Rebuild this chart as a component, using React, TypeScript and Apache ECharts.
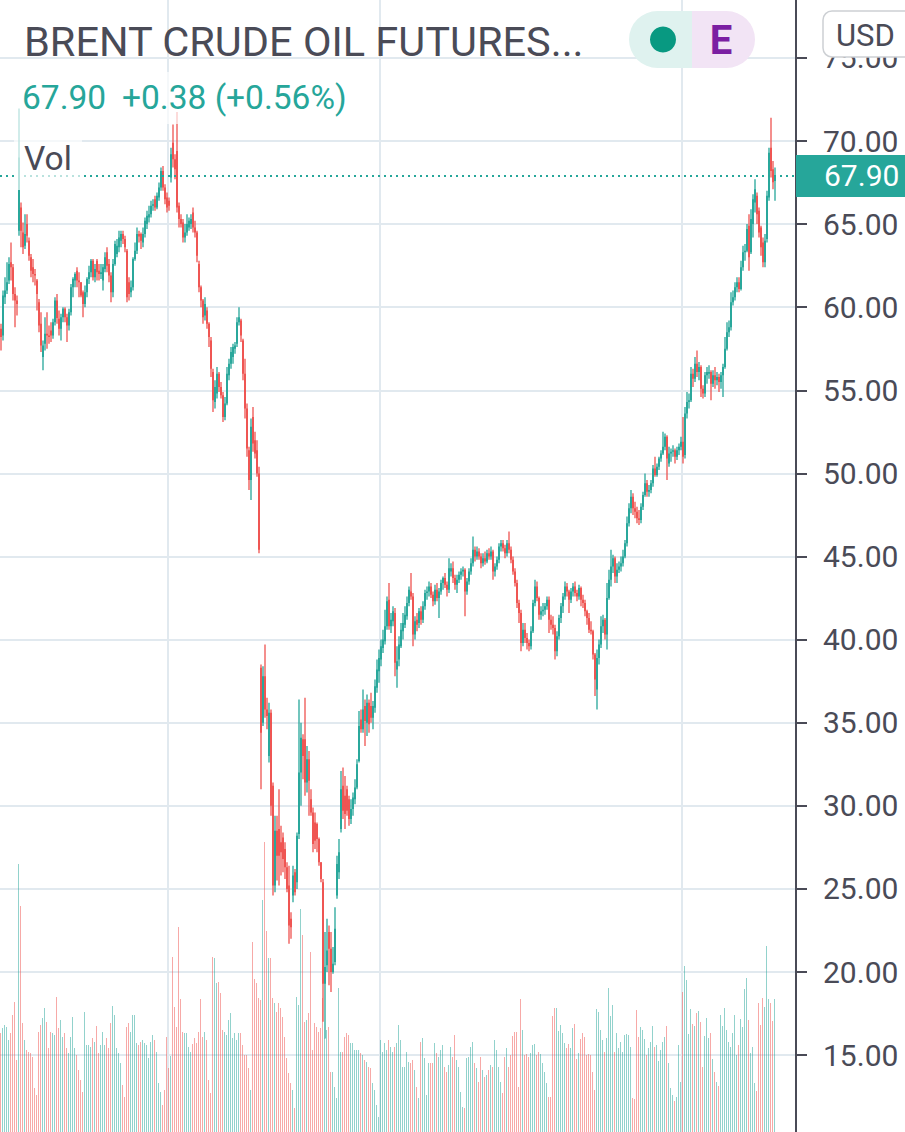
import React, { useEffect, useRef } from "react";
import * as echarts from "echarts";

const UP = "#26a69a";
const DOWN = "#ef5350";
const UP_VOL = "rgba(38,166,154,0.5)";
const DOWN_VOL = "rgba(239,83,80,0.5)";
const GRID = "#e1e9ef";
const AXIS = "#4a4b57";
const TEXT = "#4a4b57";

// Daily candles: [open, high, low, close]
const sep2019 = [
  [58.7, 59.0, 57.4, 58.2], [58.3, 61.0, 58.0, 60.7], [60.6, 61.8, 60.2, 61.0], [61.0, 62.7, 60.8, 61.5],
  [61.6, 63.0, 61.4, 62.6], [62.7, 63.9, 61.6, 62.4], [62.4, 62.6, 60.4, 60.8], [60.8, 61.2, 58.8, 60.4],
  [60.4, 60.7, 59.5, 60.2], [64.6, 71.95, 64.3, 69.0], [66.0, 66.3, 63.6, 64.6], [64.5, 65.1, 63.2, 63.6],
  [63.7, 65.6, 63.5, 64.4], [65.0, 65.6, 63.9, 64.3], [64.0, 64.2, 62.8, 63.1], [63.0, 63.2, 61.8, 62.2],
  [62.4, 62.9, 61.5, 62.0], [62.0, 62.3, 61.3, 61.9], [61.6, 61.7, 59.8, 60.8], [60.3, 60.5, 58.5, 58.9],
];
const oct2019 = [
  [59.0, 59.7, 57.3, 57.7], [57.0, 58.0, 56.2, 57.7], [57.8, 59.4, 57.4, 58.4], [58.4, 59.7, 57.5, 58.3],
  [58.3, 58.9, 57.8, 58.2], [58.6, 59.1, 57.9, 58.3], [58.3, 59.3, 58.1, 59.1], [59.1, 60.6, 58.9, 60.4],
  [60.4, 60.8, 59.0, 59.35], [59.3, 59.8, 58.3, 58.7], [58.7, 59.6, 58.0, 59.4], [59.4, 60.0, 59.1, 59.9],
  [59.9, 60.0, 59.1, 59.4], [59.4, 59.6, 57.9, 58.9], [58.9, 59.9, 58.6, 59.7], [59.7, 61.4, 59.5, 61.2],
  [61.2, 61.8, 60.6, 61.7], [61.6, 62.1, 61.2, 62.0], [62.2, 62.4, 61.2, 61.6], [61.6, 62.1, 60.6, 61.5],
  [61.5, 61.5, 60.6, 60.7], [60.9, 61.0, 59.4, 60.2], [60.2, 61.3, 60.0, 60.9],
];
const nov2019 = [
  [60.9, 61.8, 60.6, 61.7], [61.7, 62.5, 61.4, 62.1], [62.1, 62.9, 61.8, 62.8], [62.8, 62.9, 61.6, 61.8],
  [61.8, 62.6, 61.5, 62.3], [62.8, 62.9, 61.6, 62.1], [62.2, 62.6, 61.6, 62.0], [62.0, 62.6, 61.7, 62.1],
  [61.6, 62.6, 61.0, 62.4], [62.3, 63.3, 62.1, 63.0], [63.3, 63.6, 62.1, 62.5], [62.6, 62.9, 61.5, 61.9],
  [61.9, 62.1, 60.3, 60.9], [60.9, 62.9, 60.6, 62.6], [62.6, 64.0, 62.5, 63.8], [63.2, 64.1, 63.0, 63.7],
  [63.6, 64.6, 63.3, 64.2], [64.0, 64.6, 63.6, 64.4], [64.4, 64.6, 63.8, 64.1], [64.1, 64.3, 63.3, 63.6],
  [63.4, 63.5, 60.3, 60.6],
];
const dec2019 = [
  [61.5, 61.8, 60.4, 60.8], [60.9, 61.6, 60.6, 61.2], [61.2, 63.0, 61.0, 62.9], [62.9, 63.9, 62.8, 63.4],
  [63.4, 64.8, 63.2, 64.4], [64.4, 64.6, 63.9, 64.25], [64.4, 64.5, 63.5, 64.0], [63.9, 64.8, 63.6, 64.4],
  [64.4, 65.4, 64.2, 65.2], [65.0, 65.8, 64.7, 65.5], [65.4, 66.1, 65.1, 65.6], [65.6, 66.4, 65.4, 66.1],
  [66.1, 66.5, 65.8, 66.2], [66.5, 66.7, 65.8, 66.0], [66.0, 66.9, 65.9, 66.7], [66.6, 67.5, 66.4, 67.2],
  [67.2, 68.4, 67.0, 68.2], [68.2, 68.5, 67.0, 67.2], [67.2, 67.4, 66.2, 66.5], [66.6, 66.9, 65.7, 66.0],
];
const jan2020 = [
  [66.4, 66.6, 65.8, 66.1], [67.8, 69.6, 67.5, 69.2], [69.9, 71.0, 68.4, 68.9], [68.9, 69.2, 67.7, 68.3],
  [69.4, 71.75, 65.7, 66.0], [66.1, 66.3, 64.8, 65.3], [65.3, 65.6, 64.8, 65.0], [65.1, 65.3, 63.9, 64.2],
  [64.2, 65.0, 63.9, 64.5], [64.5, 65.6, 64.3, 65.0], [64.8, 65.4, 64.6, 65.2], [65.0, 65.6, 64.7, 65.3],
  [65.7, 66.0, 64.5, 64.8], [64.8, 65.2, 64.2, 64.5], [64.5, 64.6, 62.7, 63.1], [62.6, 62.8, 60.9, 61.2],
  [61.2, 61.3, 60.0, 60.4], [60.4, 60.5, 59.0, 59.4], [59.5, 60.6, 59.2, 60.2], [59.8, 60.0, 58.7, 59.0],
  [59.0, 59.1, 57.6, 58.2], [58.0, 58.2, 55.8, 56.3],
];
const feb2020 = [
  [56.1, 56.3, 53.7, 54.4], [54.3, 55.6, 53.9, 55.2], [54.8, 56.4, 54.5, 56.0], [56.0, 56.1, 54.9, 55.2],
  [55.2, 55.5, 54.5, 54.7], [54.7, 54.9, 53.1, 53.4], [53.4, 54.6, 53.2, 54.2], [54.2, 56.4, 54.1, 56.0],
  [55.9, 56.9, 55.6, 56.6], [56.6, 57.6, 56.3, 57.3], [57.0, 57.8, 56.6, 57.6], [57.5, 57.9, 57.2, 57.7],
  [57.8, 59.4, 57.6, 59.1], [59.1, 60.0, 58.9, 59.4], [59.2, 59.3, 57.9, 58.3], [58.0, 58.1, 55.6, 56.0],
  [56.0, 56.9, 53.3, 53.9], [53.9, 54.2, 51.0, 51.5], [51.4, 51.6, 49.0, 49.6], [49.6, 53.3, 48.4, 52.8],
];
const mar2020 = [
  [53.4, 54.0, 51.3, 51.8], [52.0, 52.5, 50.9, 51.2], [51.4, 52.0, 49.8, 50.0], [50.0, 50.4, 45.2, 45.4],
  [38.3, 38.5, 31.0, 34.4], [35.0, 38.4, 34.8, 37.8], [37.8, 39.7, 35.3, 35.8], [35.8, 36.5, 34.6, 35.4],
  [33.0, 36.2, 32.6, 35.6], [35.6, 35.8, 29.4, 30.0], [31.2, 31.4, 24.6, 25.2], [25.2, 29.4, 24.8, 28.5],
  [28.5, 29.4, 25.5, 27.0], [28.6, 31.0, 25.2, 27.0], [27.8, 28.8, 25.8, 27.2], [28.1, 28.4, 26.0, 26.8],
  [27.4, 27.8, 25.6, 26.3], [26.3, 26.6, 24.8, 25.0], [25.2, 26.4, 21.7, 22.8], [23.2, 23.6, 22.0, 22.7],
  [24.6, 26.4, 24.2, 25.8], [26.0, 26.2, 24.6, 24.8],
];
const apr2020 = [
  [25.4, 28.4, 25.0, 28.2], [28.3, 36.4, 28.0, 32.0], [32.0, 35.0, 30.0, 34.1], [34.0, 34.3, 31.6, 33.0],
  [34.0, 36.5, 30.6, 31.4], [31.4, 33.6, 30.8, 32.8], [32.8, 33.3, 29.4, 31.5], [30.4, 31.0, 29.4, 29.6],
  [29.6, 29.9, 27.2, 27.7], [29.0, 29.6, 27.4, 27.9], [28.9, 29.0, 27.2, 28.0], [28.0, 28.1, 26.4, 26.6],
  [26.6, 26.6, 25.4, 25.6], [25.4, 25.6, 17.0, 19.3], [19.3, 22.4, 16.0, 20.3], [20.4, 23.2, 20.0, 21.3],
  [22.4, 22.8, 19.2, 21.4], [21.4, 22.4, 18.8, 20.0], [20.0, 21.5, 19.9, 20.5], [20.6, 23.9, 20.4, 22.6],
];
const may2020 = [
  [24.6, 27.0, 24.4, 26.5], [26.0, 28.0, 25.6, 27.2], [28.6, 32.1, 28.4, 31.0], [31.2, 32.3, 29.2, 29.7],
  [30.6, 31.8, 28.6, 29.5], [31.0, 31.2, 29.4, 29.7], [30.4, 30.6, 28.8, 29.2], [29.2, 30.4, 28.9, 29.8],
  [29.8, 30.8, 29.4, 30.5], [30.4, 31.6, 30.1, 31.1], [31.1, 32.8, 31.0, 32.5], [32.7, 35.7, 32.6, 34.8],
  [35.2, 35.8, 34.4, 34.6], [34.6, 37.0, 34.4, 35.8], [36.0, 36.4, 33.6, 35.1], [35.0, 36.7, 34.2, 36.2],
  [36.2, 36.4, 34.4, 34.9], [36.0, 36.8, 35.0, 35.3], [35.3, 36.3, 34.6, 36.0], [35.9, 37.6, 35.6, 37.2],
  [37.1, 38.8, 36.8, 38.2],
];
const jun2020 = [
  [38.1, 39.4, 37.4, 38.9], [38.8, 40.0, 38.4, 39.6], [39.5, 40.6, 39.2, 40.0], [39.9, 41.8, 39.7, 40.8],
  [40.8, 42.6, 40.6, 42.3], [42.4, 43.4, 40.6, 40.8], [40.8, 41.6, 40.4, 41.2], [41.1, 42.0, 40.8, 41.7],
  [41.6, 41.9, 37.8, 38.6], [38.2, 39.6, 37.1, 38.7], [38.8, 40.2, 38.4, 39.7], [39.6, 41.0, 39.5, 40.6],
  [40.5, 41.6, 40.0, 41.0], [40.9, 42.0, 40.7, 41.5], [41.4, 42.6, 41.2, 42.2], [42.2, 43.2, 42.0, 43.0],
  [42.9, 44.0, 42.4, 42.6], [42.6, 42.8, 39.6, 40.3], [40.3, 41.4, 40.0, 41.1], [41.2, 41.6, 40.5, 40.9],
  [41.0, 41.9, 40.7, 41.7], [41.7, 42.0, 40.9, 41.2],
];
const jul2020 = [
  [41.2, 42.3, 41.0, 42.0], [42.0, 43.0, 41.8, 42.8], [42.8, 43.2, 42.4, 42.9], [42.9, 43.5, 42.6, 43.2],
  [43.2, 43.4, 42.5, 42.7], [42.7, 42.9, 42.0, 42.3], [42.3, 43.3, 42.1, 43.0], [43.0, 43.4, 42.3, 42.5],
  [42.5, 43.1, 41.3, 42.9], [42.9, 43.6, 42.7, 43.4], [43.4, 43.8, 43.0, 43.7], [43.7, 44.0, 43.1, 43.3],
  [43.3, 43.5, 42.6, 43.0], [43.0, 44.9, 42.8, 44.3], [44.1, 44.6, 43.8, 44.3], [44.3, 44.7, 43.4, 43.7],
  [43.7, 43.9, 43.0, 43.3], [43.3, 43.9, 42.8, 43.6], [43.6, 44.1, 43.4, 43.9], [43.9, 44.3, 43.6, 44.1],
  [44.1, 44.4, 43.8, 44.2], [44.2, 44.3, 41.4, 42.9], [42.9, 43.7, 42.7, 43.5],
];
const aug2020 = [
  [43.5, 44.3, 43.3, 44.1], [44.1, 44.9, 43.9, 44.6], [44.6, 46.2, 44.4, 45.4], [45.4, 45.6, 44.7, 45.0],
  [45.0, 45.6, 44.8, 45.3], [45.3, 45.5, 44.8, 45.0], [45.0, 45.2, 44.3, 44.6], [44.6, 45.2, 44.4, 44.9],
  [44.9, 45.3, 44.5, 44.7], [44.7, 45.4, 44.6, 45.2], [45.2, 45.5, 44.8, 45.0], [45.0, 45.6, 44.8, 45.3],
  [45.3, 45.4, 43.6, 44.1], [44.1, 44.6, 43.8, 44.4], [44.4, 45.0, 44.2, 44.8], [44.8, 45.8, 44.6, 45.6],
  [45.6, 46.0, 45.3, 45.8], [45.8, 46.0, 45.3, 45.5], [45.5, 45.7, 44.9, 45.2], [45.2, 46.0, 45.0, 45.8],
  [45.8, 46.5, 45.2, 45.4],
];
const sep2020 = [
  [45.4, 45.6, 44.6, 44.8], [44.8, 45.0, 43.9, 44.1], [44.1, 44.3, 43.2, 43.4], [43.4, 43.6, 41.9, 42.2],
  [42.2, 42.4, 41.0, 41.6], [41.6, 41.8, 39.3, 39.8], [39.8, 41.0, 39.6, 40.6], [40.6, 41.0, 39.8, 40.1],
  [40.1, 40.4, 39.4, 39.8], [39.8, 40.0, 39.3, 39.6], [39.6, 40.8, 39.4, 40.5], [40.5, 42.4, 40.4, 42.2],
  [42.2, 43.6, 42.0, 43.2], [43.2, 43.5, 42.3, 42.5], [42.5, 42.6, 41.2, 41.5], [41.5, 42.0, 41.2, 41.7],
  [41.7, 42.2, 41.4, 41.8], [41.8, 42.2, 41.5, 42.0], [42.0, 42.6, 41.8, 42.4], [42.4, 42.6, 40.4, 41.2],
  [41.2, 41.5, 40.6, 40.9], [40.9, 41.4, 40.3, 40.7],
];
const oct2020 = [
  [40.7, 40.9, 38.8, 39.3], [39.3, 40.5, 39.0, 40.2], [40.2, 41.5, 40.0, 41.3], [41.3, 42.2, 41.0, 42.0],
  [42.0, 42.8, 41.6, 42.6], [42.6, 43.5, 42.4, 43.2], [43.2, 43.4, 42.6, 42.9], [42.9, 43.0, 41.6, 42.4],
  [42.4, 43.1, 42.2, 42.9], [42.9, 43.4, 42.6, 43.2], [43.2, 43.5, 42.6, 42.8], [42.8, 43.0, 42.3, 42.6],
  [42.6, 43.3, 42.4, 43.1], [43.1, 43.2, 42.0, 42.4], [42.4, 42.7, 41.9, 42.2], [42.2, 42.4, 41.4, 41.7],
  [41.7, 41.8, 40.9, 41.3], [41.3, 41.6, 40.4, 40.6], [40.6, 41.1, 40.3, 40.5], [40.5, 40.6, 38.8, 39.1],
  [39.1, 39.2, 36.6, 37.6], [37.0, 39.4, 35.8, 38.9],
];
const nov2020 = [
  [38.9, 40.0, 38.5, 39.7], [39.7, 41.4, 39.5, 40.8], [40.8, 41.5, 40.4, 41.2], [41.2, 41.3, 40.0, 40.3],
  [40.3, 43.4, 39.4, 42.5], [42.5, 44.2, 42.4, 43.6], [43.6, 45.4, 43.2, 44.4], [44.4, 45.1, 44.0, 44.9],
  [44.9, 45.0, 43.4, 43.8], [43.8, 44.6, 43.4, 44.2], [44.2, 44.7, 44.0, 44.4], [44.4, 45.0, 44.1, 44.6],
  [44.6, 45.4, 44.4, 45.0], [45.0, 46.0, 44.9, 45.8], [45.8, 47.4, 45.6, 47.0], [47.0, 48.2, 46.8, 47.9],
  [47.9, 49.0, 47.6, 48.6], [48.6, 48.8, 47.5, 47.9], [47.9, 48.3, 47.3, 47.7], [47.7, 48.0, 47.0, 47.3],
  [47.3, 47.8, 46.9, 47.2],
];
const dec2020 = [
  [47.2, 48.2, 47.0, 48.0], [48.0, 48.9, 47.8, 48.7], [48.7, 50.0, 48.6, 49.4], [49.4, 49.6, 48.6, 48.9],
  [48.9, 49.3, 48.6, 49.0], [49.0, 49.6, 48.8, 49.4], [49.4, 50.5, 49.2, 50.3], [50.3, 51.0, 49.8, 49.9],
  [49.9, 50.6, 49.8, 50.4], [50.4, 51.0, 50.2, 50.9], [50.9, 51.4, 50.7, 51.2], [51.2, 52.5, 51.1, 51.6],
  [51.6, 52.4, 51.4, 52.2], [52.2, 52.3, 49.6, 50.9], [50.6, 51.6, 50.4, 51.2], [51.2, 51.5, 50.7, 51.3],
  [51.3, 51.7, 51.0, 51.4], [51.4, 51.5, 50.6, 51.0], [51.0, 51.6, 50.8, 51.4], [51.4, 51.8, 51.1, 51.6],
  [51.6, 52.2, 51.4, 51.9],
];
const jan2021 = [
  [51.9, 53.4, 50.6, 51.0], [51.1, 54.0, 50.9, 53.6], [53.6, 54.9, 53.3, 54.3], [54.3, 54.8, 53.9, 54.4],
  [54.4, 56.4, 54.3, 56.0], [56.0, 56.3, 55.2, 55.7], [55.7, 57.0, 55.5, 56.6], [56.6, 57.4, 55.8, 56.1],
  [56.1, 56.7, 55.6, 56.4], [56.4, 56.5, 54.6, 55.1], [55.1, 55.3, 54.5, 54.8], [54.8, 56.1, 54.6, 55.9],
  [55.9, 56.4, 55.4, 56.1], [56.0, 56.5, 55.7, 56.1], [56.1, 56.2, 54.4, 55.4], [55.4, 56.2, 55.2, 55.9],
  [55.9, 56.4, 55.1, 55.6], [55.6, 56.1, 55.3, 55.8], [55.8, 56.0, 54.9, 55.5], [55.5, 56.1, 55.1, 55.9],
];
const feb2021 = [
  [55.9, 56.6, 54.6, 56.4], [56.4, 58.2, 56.3, 57.5], [57.5, 59.1, 57.4, 58.5], [58.5, 59.2, 58.2, 58.8],
  [58.8, 60.9, 58.6, 60.3], [60.3, 61.0, 60.1, 60.6], [60.6, 61.5, 60.4, 61.2], [61.2, 61.8, 60.9, 61.5],
  [61.5, 61.8, 60.9, 61.1], [61.1, 62.8, 61.0, 62.4], [62.4, 63.7, 62.2, 63.3], [63.3, 63.8, 62.8, 63.4],
  [63.4, 65.0, 63.3, 64.7], [64.9, 65.6, 62.2, 63.0], [63.3, 65.9, 63.2, 65.3], [65.0, 66.8, 64.2, 66.5],
  [66.3, 67.7, 65.7, 67.1], [66.7, 66.9, 65.0, 65.6], [65.8, 66.0, 64.2, 64.5], [64.8, 64.9, 63.1, 63.6],
];
const mar2021 = [
  [63.9, 64.2, 62.4, 62.7], [62.7, 64.4, 62.4, 64.0], [64.1, 67.0, 63.9, 66.7], [66.6, 69.6, 66.4, 69.3],
  [69.6, 71.4, 67.8, 68.2], [68.3, 68.8, 67.1, 67.52], [67.6, 68.4, 66.4, 67.9],
];

// Volume (bar heights, thousand contracts)
const volumeA = [
  99, 104, 107, 105, 92, 99, 117, 130, 72, 268, 226, 109, 92, 82, 80, 79, 75, 44, 37, 100,
  107, 114, 124, 110, 84, 100, 99, 97, 135, 104, 112, 95, 99, 84, 79, 95, 115, 84, 77, 62,
  52, 40, 120, 87, 87, 85, 94, 90, 106, 79, 87, 100, 87, 94, 84, 109, 126, 117, 84, 79,
  69, 47, 35, 105, 109, 100, 117, 117, 89, 87, 90, 92, 89, 87, 74, 90, 97, 92, 80, 49,
  40, 27, 42, 95, 64, 76, 175, 125, 105, 205, 133, 100, 99, 99, 85, 80, 88, 94, 89, 100,
];
const volumeB = [
  133, 95, 100, 92, 52, 39, 175, 174, 149, 150, 139, 102, 100, 97, 112, 119, 94, 99, 92, 99,
  99, 87, 77, 77, 64, 42, 190, 153, 149, 134, 132, 232, 290, 201, 174, 174, 134, 129, 120, 129,
  124, 115, 95, 74, 59, 49, 42, 24, 135, 127, 223, 197, 110, 112, 119, 180, 82, 109, 105, 100,
  104, 134, 94, 102, 105, 60, 60, 45, 34, 144, 80, 80, 95, 99, 97, 89, 89, 82, 82, 82,
  79, 77, 72, 70, 65, 64, 49, 42, 27, 15, 92, 80, 89, 82, 92, 85, 80, 85, 89, 107,
];
const volumeC = [
  92, 65, 65, 80, 70, 69, 72, 62, 45, 34, 90, 94, 74, 37, 69, 69, 69, 89, 79, 75,
  82, 87, 65, 60, 67, 85, 75, 97, 72, 65, 40, 25, 24, 74, 75, 85, 90, 69, 64, 50,
  75, 62, 55, 57, 62, 67, 65, 92, 82, 65, 50, 39, 75, 84, 65, 77, 96, 100, 100, 45,
  133, 102, 77, 78, 75, 79, 87, 88, 77, 80, 78, 69, 60, 49, 35, 35, 116, 124, 124, 101,
  107, 99, 89, 84, 88, 84, 104, 108, 73, 79, 93, 99, 95, 77, 78, 77, 60, 42, 123, 120,
];
const volumeD = [
  102, 92, 80, 94, 144, 116, 127, 80, 99, 84, 90, 80, 97, 98, 97, 85, 34, 33, 122, 95,
  105, 102, 93, 77, 84, 90, 106, 85, 87, 71, 82, 90, 95, 106, 69, 44, 37, 31, 35, 87,
  50, 140, 166, 152, 98, 123, 108, 106, 119, 121, 110, 65, 96, 114, 94, 99, 73, 60, 50, 46,
  117, 106, 124, 102, 90, 85, 99, 117, 77, 87, 113, 105, 143, 154, 112, 79, 85, 49, 41, 129,
  107, 134, 125, 186, 133, 129, 111, 133,
];

// Indices of candles that open a new period (vertical grid lines: 2020, Jun, 2021)
const periodStartIndices = [84, 190, 341];
const priceTicks = { min: 10, max: 80, step: 5 };

const candles = [
  ...sep2019, ...oct2019, ...nov2019, ...dec2019, ...jan2020, ...feb2020, ...mar2020,
  ...apr2020, ...may2020, ...jun2020, ...jul2020, ...aug2020, ...sep2020, ...oct2020,
  ...nov2020, ...dec2020, ...jan2021, ...feb2021, ...mar2021,
];
const volumes = [...volumeA, ...volumeB, ...volumeC, ...volumeD];

const RIGHT_PAD = 10;

export default function App() {
  const ref = useRef<HTMLDivElement>(null);

  useEffect(() => {
    const el = ref.current;
    if (!el) return;
    const chart = echarts.init(el, undefined, { renderer: "svg" });

    const categories = Array.from({ length: candles.length + RIGHT_PAD }, (_, i) => String(i));
    const last = candles[candles.length - 1][3];
    const prev = candles[candles.length - 2][3];
    const chg = last - prev;
    const pct = (chg / prev) * 100;
    const sign = chg >= 0 ? "+" : "-";
    const priceColor = chg >= 0 ? UP : DOWN;

    const font = "Roboto";
    const BACKDROP = "rgba(255,255,255,0.68)";

    const candleData = candles.map(([o, h, l, c], i) => [i, o, c, l, h]);
    const volumeData = volumes.map((v, i) => [i, v, candles[i][3] >= candles[i][0] ? 1 : 0]);

    const renderCandle = (_params: any, api: any) => {
      const i = api.value(0);
      const o = api.value(1);
      const c = api.value(2);
      const l = api.value(3);
      const h = api.value(4);
      const pO = api.coord([i, o]);
      const cx = pO[0];
      const yO = pO[1];
      const yC = api.coord([i, c])[1];
      const yL = api.coord([i, l])[1];
      const yH = api.coord([i, h])[1];
      const band = api.size([1, 0])[0];
      const bw = band * 0.95;
      const color = c >= o ? UP : DOWN;
      const top = Math.min(yO, yC);
      const hgt = Math.max(Math.abs(yO - yC), 1.2);
      return {
        type: "group",
        children: [
          { type: "rect", shape: { x: cx - 0.65, y: yH, width: 1.3, height: Math.max(yL - yH, 1) }, style: { fill: color } },
          { type: "rect", shape: { x: cx - bw / 2, y: top, width: bw, height: hgt }, style: { fill: color } },
        ],
      };
    };

    const renderVolume = (_params: any, api: any) => {
      const i = api.value(0);
      const p = api.coord([i, api.value(1)]);
      const y0 = api.coord([i, 0])[1];
      return {
        type: "rect",
        shape: { x: Math.floor(p[0] - 0.5), y: p[1], width: 1, height: y0 - p[1] },
        style: { fill: api.value(2) ? UP_VOL : DOWN_VOL },
      };
    };

    chart.setOption({
      animation: false,
      textStyle: { fontFamily: font },
      grid: [
        { left: 0, right: 109, top: -25.2, bottom: -6.2, containLabel: false, outerBoundsMode: "none" },
        { left: 0, right: 109, top: 732, bottom: 0, containLabel: false, outerBoundsMode: "none" },
      ],
      xAxis: [
        {
          type: "category",
          gridIndex: 0,
          data: categories,
          boundaryGap: true,
          axisLine: { show: false },
          axisTick: { show: false },
          axisLabel: { show: false },
          splitLine: {
            show: true,
            interval: (i: number) => periodStartIndices.includes(i),
            lineStyle: { color: GRID, width: 2 },
          },
        },
        {
          type: "category",
          gridIndex: 1,
          data: categories,
          boundaryGap: true,
          show: false,
        },
      ],
      yAxis: [
        {
          type: "value",
          gridIndex: 0,
          position: "right",
          min: priceTicks.min,
          max: priceTicks.max,
          interval: priceTicks.step,
          axisLine: { show: true, lineStyle: { color: AXIS, width: 2 } },
          axisTick: { show: true, length: 11, lineStyle: { color: AXIS, width: 2 } },
          axisLabel: {
            show: true,
            showMinLabel: false,
            showMaxLabel: false,
            margin: 27,
            fontSize: 30,
            color: TEXT,
            fontFamily: font,
            formatter: (v: number) => v.toFixed(2),
          },
          splitLine: { show: true, lineStyle: { color: GRID, width: 2 } },
        },
        { type: "value", gridIndex: 1, min: 0, max: 400, show: false },
      ],
      series: [
        {
          type: "custom",
          xAxisIndex: 1,
          yAxisIndex: 1,
          silent: true,
          z: 1,
          encode: { x: 0, y: 1 },
          data: volumeData,
          renderItem: renderVolume,
        },
        {
          type: "custom",
          xAxisIndex: 0,
          yAxisIndex: 0,
          clip: false,
          silent: true,
          z: 3,
          encode: { x: 0, y: [1, 2, 3, 4] },
          data: candleData,
          renderItem: renderCandle,
          markLine: {
            silent: true,
            symbol: ["none", "none"],
            animation: false,
            data: [{ yAxis: last }],
            lineStyle: { type: [2, 4], color: UP, width: 2 },
            label: {
              show: true,
              position: "end",
              distance: 0,
              formatter: last.toFixed(2),
              color: "#ffffff",
              backgroundColor: UP,
              fontSize: 30,
              fontFamily: font,
              padding: [6, 20, 6, 28],
            },
          },
        },
      ],
      graphic: {
        elements: [
          { type: "rect", z: 100, silent: true, shape: { x: 14, y: 72, width: 342, height: 52 }, style: { fill: BACKDROP } },
          { type: "rect", z: 100, silent: true, shape: { x: 14, y: 124, width: 68, height: 66 }, style: { fill: BACKDROP } },
          {
            type: "text", z: 101, x: 24, y: 41,
            style: { text: "BRENT CRUDE OIL FUTURES...", fontSize: 41.5, fontFamily: font, fill: TEXT, verticalAlign: "middle" },
          },
          {
            type: "text", z: 101, x: 22, y: 97,
            style: { text: last.toFixed(2), fontSize: 33.5, fontFamily: font, fill: priceColor, verticalAlign: "middle" },
          },
          {
            type: "text", z: 101, x: 122, y: 97,
            style: {
              text: `${sign}${Math.abs(chg).toFixed(2)} (${sign}${Math.abs(pct).toFixed(2)}%)`,
              fontSize: 33.5, fontFamily: font, fill: priceColor, verticalAlign: "middle",
            },
          },
          {
            type: "text", z: 101, x: 24, y: 158,
            style: { text: "Vol", fontSize: 33.5, fontFamily: font, fill: TEXT, verticalAlign: "middle" },
          },
          { type: "rect", z: 100, silent: true, shape: { x: 629, y: 11, width: 63, height: 57, r: [28.5, 0, 0, 28.5] }, style: { fill: "#dff2ef" } },
          { type: "rect", z: 100, silent: true, shape: { x: 692, y: 11, width: 63, height: 57, r: [0, 28.5, 28.5, 0] }, style: { fill: "#f2e4f5" } },
          { type: "circle", z: 101, silent: true, shape: { cx: 663, cy: 39.5, r: 13 }, style: { fill: "#089981" } },
          {
            type: "text", z: 101, x: 721, y: 40,
            style: { text: "E", fontSize: 40, fontWeight: "bold", fontFamily: font, fill: "#7b1fa2", align: "center", verticalAlign: "middle" },
          },
          {
            type: "rect", z: 100, silent: true,
            shape: { x: 823, y: 11, width: 96, height: 46, r: 9 },
            style: { fill: "#ffffff", stroke: "#cdd0d4", lineWidth: 1.5 },
          },
          {
            type: "text", z: 101, x: 836, y: 35,
            style: { text: "USD", fontSize: 31, fontFamily: font, fill: TEXT, verticalAlign: "middle" },
          },
        ],
      },
    });

    return () => chart.dispose();
  }, []);

  return (
    <div
      ref={ref}
      style={{ position: "absolute", left: 0, top: 0, width: 905, height: 1132, background: "#ffffff" }}
    />
  );
}
